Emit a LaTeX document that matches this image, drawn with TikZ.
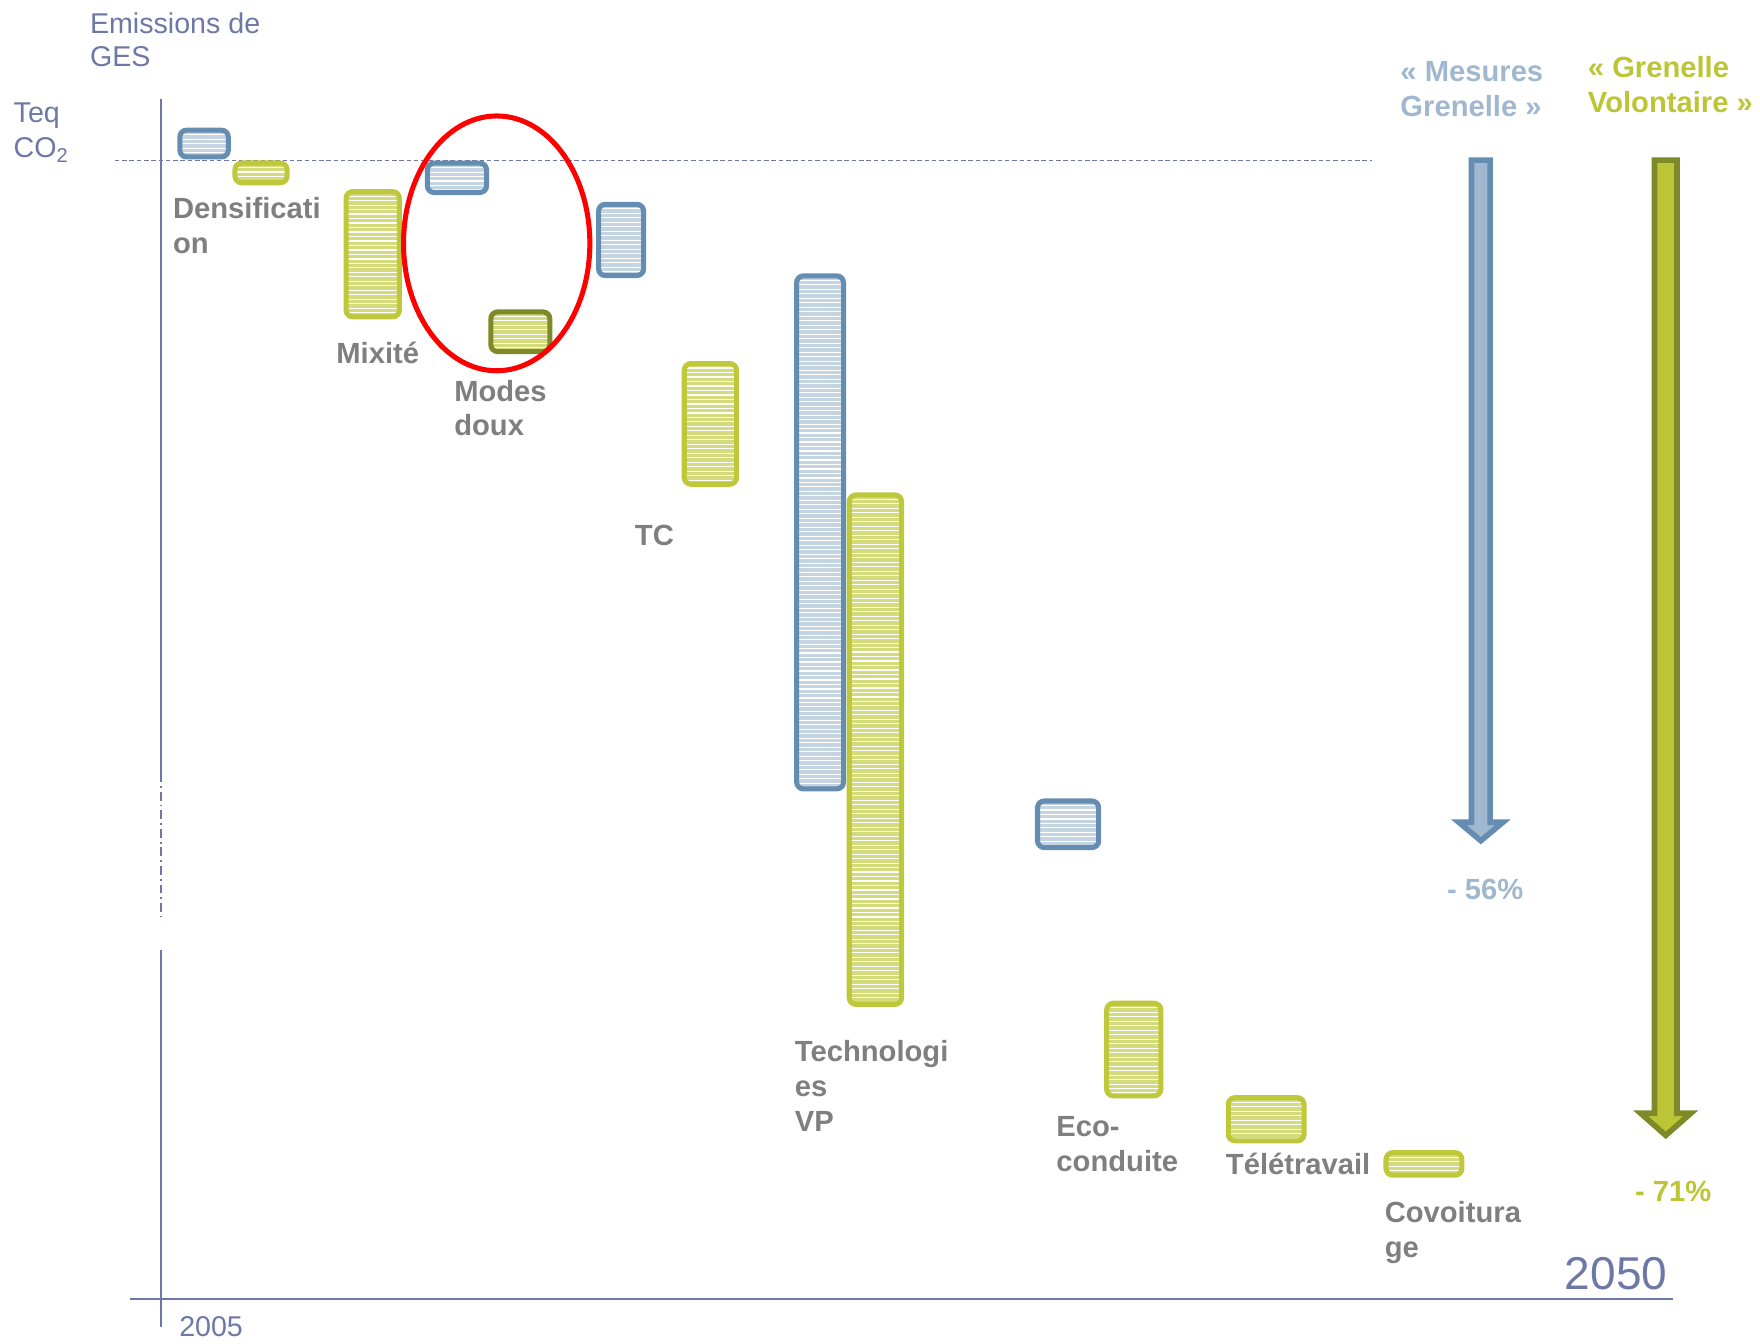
\documentclass[tikz,border=0pt]{standalone}
\usepackage{fontspec}
\setmainfont{Liberation Sans}

\definecolor{axisblue}{HTML}{6E78A6}
\definecolor{labelgray}{HTML}{7F7F7F}
\definecolor{barblue}{HTML}{658DB2}
\definecolor{barbluefill}{HTML}{C4D4E1}
\definecolor{bargreen}{HTML}{BFC73A}
\definecolor{bargreenfill}{HTML}{D4DB7A}
\definecolor{barolive}{HTML}{7E8A28}
\definecolor{arrowblue}{HTML}{A0B8CF}
\definecolor{arrowgreen}{HTML}{BCC536}

\tikzset{
  hatched/.style={path picture={
    \foreach \k in {1,...,115}
      \draw[white,line width=1pt] ([yshift=-\k*4pt]path picture bounding box.north west) -- ([yshift=-\k*4pt]path picture bounding box.north east);}},
  bluebox/.style={draw=barblue,fill=barbluefill,line width=4.5pt,rounded corners=6pt,hatched},
  greenbox/.style={draw=bargreen,fill=bargreenfill,line width=4.5pt,rounded corners=6pt,hatched},
  tag/.style={anchor=base west,inner sep=0pt,align=left,text=labelgray,font=\fontsize{26}{31}\selectfont\bfseries},
  axistext/.style={anchor=base west,inner sep=0pt,align=left,text=axisblue,font=\fontsize{25.5}{30}\selectfont},
  axisline/.style={axisblue,line width=2pt},
}

\begin{document}
\begin{tikzpicture}[x=1pt,y=-1pt]
\useasboundingbox (0,0) rectangle (1568,1197);

\draw[axisline] (143.2,88.5) -- (143.2,689);
\draw[axisline,dash pattern=on 8pt off 3.5pt on 1.5pt off 3.5pt] (143.2,689) -- (143.2,817);
\draw[axisline] (143.2,846.4) -- (143.2,1182);
\draw[axisline] (115.9,1157) -- (1490.8,1157);
\draw[axisblue,line width=1.2pt,dash pattern=on 4pt off 2.5pt] (102.3,142.9) -- (1222,142.9);

\node[axistext] (ges) at (80,59.4) {Emissions de\\GES};
\node[axistext,font=\fontsize{25.5}{31.2}\selectfont] (teq) at (12,140.5) {Teq\\CO\textsubscript{2}};
\node[axistext] (y2005) at (159.5,1191) {2005};
\node[axistext,font=\fontsize{41}{41}\selectfont] (y2050) at (1394,1148.4) {2050};

\draw[bluebox] (160.2,116) rectangle (203.4,139.8);
\draw[greenbox] (209.3,145.2) rectangle (255.8,162.8);
\draw[greenbox] (308.3,170.7) rectangle (355.8,282.3);
\draw[bluebox] (380.7,145.3) rectangle (433.5,171.5);
\draw[greenbox,draw=barolive] (437.3,277.9) rectangle (489.8,313.2);
\draw[bluebox] (533.3,182) rectangle (573.4,245.5);
\draw[greenbox] (609.6,323.9) rectangle (656.2,431.4);
\draw[bluebox] (709.7,245.8) rectangle (751.5,702.8);
\draw[greenbox] (756.6,440.9) rectangle (803.2,894.8);
\draw[bluebox] (924.3,713.6) rectangle (978.8,755.1);
\draw[greenbox] (985.9,893.8) rectangle (1034.2,976.3);
\draw[greenbox] (1094.3,977.9) rectangle (1161.8,1016.4);
\draw[greenbox] (1234.8,1026.9) rectangle (1302.4,1047);

\draw[red,line width=4.5pt] (442.5,216.8) ellipse [x radius=83pt,y radius=113.5pt];

\node[tag] (densif) at (154,225.5) {Densificati\\on};
\node[tag] (mixite) at (299.5,323.7) {Mixité};
\node[tag] (modes) at (404.5,388.3) {Modes\\doux};
\node[tag] (tc) at (565.5,485.6) {TC};
\node[tag] (techno) at (708,1008) {Technologi\\es\\VP};
\node[tag] (eco) at (941,1043.7) {Eco-\\conduite};
\node[tag] (tele) at (1092,1046.8) {Télétravail};
\node[tag] (covoit) at (1233.5,1120.5) {Covoitura\\ge};

\draw[draw=barblue,fill=arrowblue,line width=5pt,line join=miter] (1311,142.7) -- (1327.6,142.7) -- (1327.6,732.5) -- (1339,732.5) -- (1319.3,749) -- (1299.6,732.5) -- (1311,732.5) -- cycle;
\draw[draw=barolive,fill=arrowgreen,line width=5pt,line join=miter] (1474,142.7) -- (1494,142.7) -- (1494,991.8) -- (1506.4,991.8) -- (1484,1011.5) -- (1461.6,991.8) -- (1474,991.8) -- cycle;

\node[tag,text=arrowblue] (mesures) at (1247.5,104) {« Mesures\\Grenelle »};
\node[tag,text=arrowgreen] (volont) at (1414.5,100.4) {« Grenelle\\Volontaire »};
\node[tag,text=arrowblue] (pct56) at (1289,801.5) {- 56\%};
\node[tag,text=arrowgreen] (pct71) at (1456.5,1070.4) {- 71\%};
\end{tikzpicture}
\end{document}
